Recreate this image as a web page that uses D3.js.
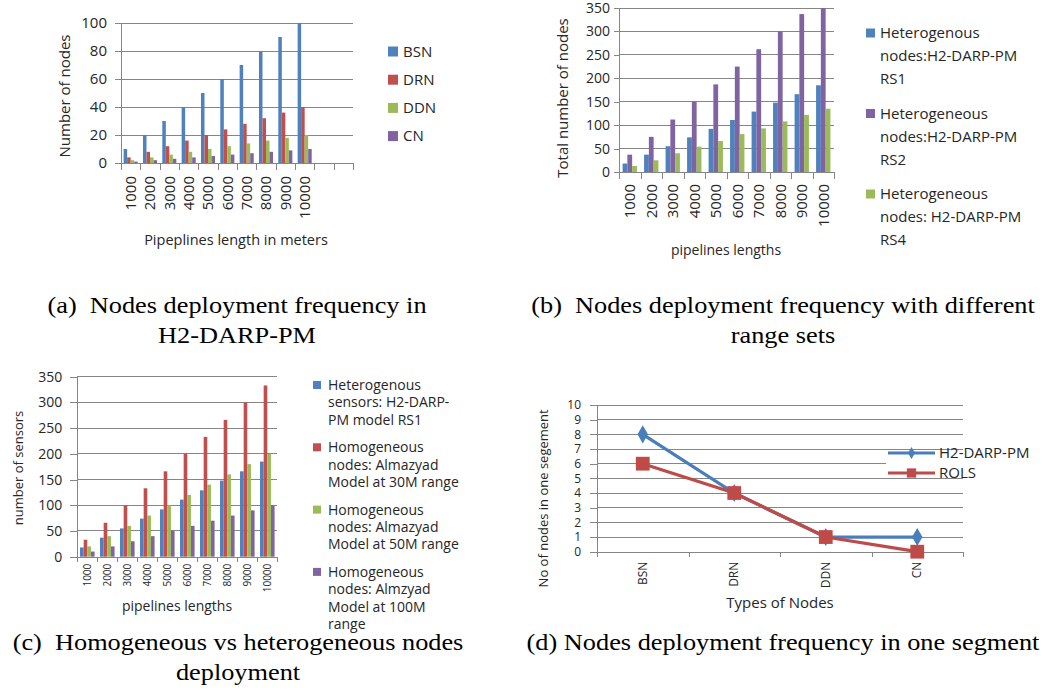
<!DOCTYPE html>
<html lang="en">
<head>
    <meta charset="UTF-8">
    <title>Nodes deployment frequency</title>
    <script src="https://d3js.org/d3.v7.min.js"></script>
    <style>
        body { margin: 0; padding: 0; background: #fff; }
        svg { display: block; }
        svg text { font-family: "Open Sans", sans-serif; fill: #262626; }
        svg text.caption { font-family: "Liberation Serif", "Times New Roman", serif; font-size: 22.5px; fill: #000; white-space: pre; }
        .axis path, .axis line { stroke: #868686; shape-rendering: crispEdges; }
        .grid line { stroke: #868686; stroke-width: 1; shape-rendering: crispEdges; }
    </style>
</head>
<body>
<svg width="1049" height="698"></svg>
<script>
    // ---- data ----
    const lengths = ["1000", "2000", "3000", "4000", "5000", "6000", "7000", "8000", "9000", "10000"];

    // (a) node types per pipeline length
    const nodeTypes = ["BSN", "DRN", "DDN", "CN"];
    const bsn = [10, 20, 30, 40, 50, 60, 70, 80, 90, 100];
    const drn = [4, 8, 12, 16, 20, 24, 28, 32, 36, 40];
    const ddn = [2, 4, 6, 8, 10, 12, 14, 16, 18, 20];
    const cn  = [1, 2, 3, 4, 5, 6, 7, 8, 9, 10];

    // (b) range sets
    const rs1 = [18, 37, 55, 74, 92, 111, 129, 148, 166, 185];
    const rs2 = [37, 75, 112, 150, 187, 225, 262, 300, 337, 375];
    const rs4 = [13, 25, 40, 54, 66, 81, 93, 108, 122, 135];
    const legendB = [
        ["Heterogenous", "nodes:H2-DARP-PM", "RS1"],
        ["Heterogeneous", "nodes:H2-DARP-PM", "RS2"],
        ["Heterogeneous", "nodes: H2-DARP-PM", "RS4"]
    ];

    // (c) homogeneous vs heterogeneous
    const homo30  = [33, 66, 100, 133, 166, 200, 233, 266, 300, 333];
    const homo50  = [20, 40, 60, 80, 100, 120, 140, 160, 180, 200];
    const homo100 = [10, 20, 30, 40, 50, 60, 70, 80, 90, 100];
    const legendC = [
        ["Heterogenous", "sensors: H2-DARP-", "PM model RS1"],
        ["Homogeneous", "nodes: Almazyad", "Model at 30M range"],
        ["Homogeneous", "nodes: Almazyad", "Model at 50M range"],
        ["Homogeneous", "nodes: Almzyad", "Model at 100M", "range"]
    ];

    // (d) one segment
    const h2darp = [8, 4, 1, 1];
    const rols   = [6, 4, 1, 0];
    const lineNames = ["H2-DARP-PM", "ROLS"];

    const blue = "#4F81BD", red = "#C0504D", green = "#9BBB59", purple = "#8064A2";

    const svg = d3.select("svg");

    // clustered column chart, excel style
    function barChart(o) {
        const g = svg.append("g");
        const n = o.nCats;
        const x = d3.scaleBand().domain(d3.range(n)).range([o.left, o.right]);
        const y = d3.scaleLinear().domain([0, o.max]).range([o.bottom, o.top]).clamp(true);
        const ticks = d3.range(0, o.max + 1, o.step);

        g.append("g").attr("class", "grid")
            .selectAll("line").data(ticks.slice(1)).join("line")
            .attr("x1", o.left).attr("x2", o.right)
            .attr("y1", d => y(d)).attr("y2", d => y(d));

        const inner = d3.scaleBand().domain(d3.range(o.series.length))
            .range([0, x.bandwidth()]).paddingOuter(0.75);

        o.series.forEach((s, si) => {
            g.append("g").selectAll("rect").data(s.values).join("rect")
                .attr("x", (d, i) => x(i) + inner(si))
                .attr("width", inner.bandwidth())
                .attr("y", d => y(d))
                .attr("height", d => y(0) - y(d))
                .attr("fill", s.color);
        });

        g.append("g").attr("class", "axis")
            .attr("transform", `translate(${o.left},0)`)
            .call(d3.axisLeft(y).tickValues(ticks).tickSize(o.yTick).tickPadding(o.yPad))
            .call(a => a.selectAll("text").style("font-size", o.yFont + "px"));

        // tick marks between categories
        const xs = d3.scaleLinear().domain([0, n]).range([o.left, o.right]);
        g.append("g").attr("class", "axis")
            .attr("transform", `translate(0,${o.bottom})`)
            .call(d3.axisBottom(xs).tickValues(d3.range(n + 1)).tickFormat("").tickSize(o.xTick).tickSizeOuter(0));

        g.append("g")
            .attr("transform", `translate(0,${o.bottom})`)
            .call(d3.axisBottom(x).tickSize(0).tickFormat(i => lengths[i] || ""))
            .call(a => a.select(".domain").remove())
            .call(a => a.selectAll("text")
                .attr("transform", "rotate(-90)")
                .attr("x", -o.xPad).attr("y", 0).attr("dy", "0.35em")
                .style("text-anchor", "end")
                .style("font-size", o.xFont + "px"));

        g.append("text")
            .attr("transform", `translate(${o.yTitle[0]},${o.yTitle[1]}) rotate(-90)`)
            .attr("text-anchor", "middle").attr("dy", "0.35em")
            .style("font-size", o.yTitleFont + "px")
            .text(o.yLabel);
        g.append("text")
            .attr("x", o.xTitle[0]).attr("y", o.xTitle[1])
            .attr("text-anchor", "middle")
            .style("font-size", o.xTitleFont + "px")
            .text(o.xLabel);
    }

    function legend(o) {
        const g = svg.append("g").attr("transform", `translate(${o.x},${o.y})`);
        o.items.forEach((lines, i) => {
            const item = g.append("g").attr("transform", `translate(0,${i * o.gap})`);
            item.append("rect")
                .attr("x", 0).attr("y", -o.box / 2)
                .attr("width", o.box).attr("height", o.box)
                .attr("fill", o.colors[i]);
            const t = item.append("text")
                .attr("x", o.textX).attr("y", 0)
                .style("font-size", o.font + "px");
            lines.forEach((l, j) => {
                t.append("tspan").attr("x", o.textX).attr("dy", j === 0 ? "0.35em" : o.lineH).text(l);
            });
        });
    }

    // (a)
    barChart({
        left: 121, right: 353, top: 23, bottom: 163, max: 100, step: 20, nCats: 12,
        series: [{ values: bsn, color: blue }, { values: drn, color: red },
                 { values: ddn, color: green }, { values: cn, color: purple }],
        yTick: 6, yPad: 8, yFont: 15, xTick: 7, xPad: 13, xFont: 15,
        yLabel: "Number of nodes", yTitle: [65, 96], yTitleFont: 15,
        xLabel: "Pipeplines length in meters", xTitle: [236, 245], xTitleFont: 14.5
    });
    legend({ x: 388, y: 51.5, gap: 28.2, box: 10, textX: 15, font: 15, lineH: 0,
             colors: [blue, red, green, purple], items: nodeTypes.map(d => [d]) });

    // (b)
    barChart({
        left: 619, right: 834, top: 8, bottom: 172, max: 350, step: 50, nCats: 10,
        series: [{ values: rs1, color: blue }, { values: rs2, color: purple }, { values: rs4, color: green }],
        yTick: 5, yPad: 4, yFont: 14, xTick: 7, xPad: 12, xFont: 15,
        yLabel: "Total number of nodes", yTitle: [563, 98], yTitleFont: 15,
        xLabel: "pipelines lengths", xTitle: [726, 255], xTitleFont: 14
    });
    legend({ x: 866, y: 33, gap: 80.5, box: 9, textX: 14, font: 15, lineH: 23,
             colors: [blue, purple, green], items: legendB });

    // (c)
    barChart({
        left: 77.3, right: 277.3, top: 376.7, bottom: 556.7, max: 350, step: 50, nCats: 10,
        series: [{ values: rs1, color: blue }, { values: homo30, color: red },
                 { values: homo50, color: green }, { values: homo100, color: purple }],
        yTick: 7, yPad: 8, yFont: 14, xTick: 5, xPad: 7, xFont: 10,
        yLabel: "number of sensors", yTitle: [18, 468], yTitleFont: 13,
        xLabel: "pipelines lengths", xTitle: [177, 611], xTitleFont: 14
    });
    legend({ x: 313, y: 385, gap: 62.3, box: 8, textX: 15, font: 14, lineH: 17.4,
             colors: [blue, red, green, purple], items: legendC });

    // (d) line chart
    (function () {
        const o = { left: 597, right: 963, top: 405, bottom: 551.7 };
        const g = svg.append("g");
        const x = d3.scaleBand().domain(nodeTypes).range([o.left, o.right]);
        const y = d3.scaleLinear().domain([0, 10]).range([o.bottom, o.top]);
        const ticks = d3.range(0, 11);

        g.append("g").attr("class", "grid")
            .selectAll("line").data(ticks.slice(1)).join("line")
            .attr("x1", o.left).attr("x2", o.right)
            .attr("y1", d => y(d)).attr("y2", d => y(d));

        g.append("g").attr("class", "axis")
            .attr("transform", `translate(${o.left},0)`)
            .call(d3.axisLeft(y).tickValues(ticks).tickSize(7).tickPadding(9))
            .call(a => a.selectAll("text").style("font-size", "12px"));

        const xs = d3.scaleLinear().domain([0, nodeTypes.length]).range([o.left, o.right]);
        g.append("g").attr("class", "axis")
            .attr("transform", `translate(0,${o.bottom})`)
            .call(d3.axisBottom(xs).tickValues(d3.range(nodeTypes.length + 1)).tickFormat("").tickSize(5).tickSizeOuter(0));

        g.append("g")
            .attr("transform", `translate(0,${o.bottom})`)
            .call(d3.axisBottom(x).tickSize(0))
            .call(a => a.select(".domain").remove())
            .call(a => a.selectAll("text")
                .attr("transform", "rotate(-90)")
                .attr("x", -10).attr("y", 0).attr("dy", "0.35em")
                .style("text-anchor", "end")
                .style("font-size", "12px"));

        const cx = (d, i) => x(nodeTypes[i]) + x.bandwidth() / 2;
        const line = d3.line().x(cx).y(d => y(d));

        const series = [
            { values: h2darp, color: "#4A7EBB", shape: d3.symbolDiamond, size: 95 },
            { values: rols, color: "#BE4B48", shape: d3.symbolSquare, size: 190 }
        ];
        series.forEach(s => {
            g.append("path").datum(s.values)
                .attr("fill", "none").attr("stroke", s.color).attr("stroke-width", 3.2)
                .attr("d", line);
            g.append("g").selectAll("path").data(s.values).join("path")
                .attr("transform", (d, i) => `translate(${cx(d, i)},${y(d)})`)
                .attr("d", d3.symbol(s.shape, s.size))
                .attr("fill", s.color);
        });

        g.append("text")
            .attr("transform", `translate(543,${(o.top + o.bottom) / 2 + 20}) rotate(-90)`)
            .attr("text-anchor", "middle").attr("dy", "0.35em")
            .style("font-size", "13px")
            .text("No of nodes in one segement");
        g.append("text")
            .attr("x", 780).attr("y", 608)
            .attr("text-anchor", "middle")
            .style("font-size", "15px")
            .text("Types of Nodes");

        // legend
        const lg = svg.append("g").attr("transform", "translate(888,453)");
        lg.append("rect").attr("x", -2).attr("y", 3).attr("width", 125).attr("height", 15).attr("fill", "#fff");
        series.forEach((s, i) => {
            const it = lg.append("g").attr("transform", `translate(0,${i * 20})`);
            it.append("line").attr("x1", 0).attr("x2", 47)
                .attr("stroke", s.color).attr("stroke-width", 3.2);
            it.append("path").attr("transform", "translate(23.5,0)")
                .attr("d", d3.symbol(s.shape, s.size * 0.45)).attr("fill", s.color);
            it.append("text").attr("x", 51).attr("dy", "0.35em")
                .style("font-size", "15px").text(lineNames[i]);
        });
    })();

    // captions (the serif text in the source is a little wider than Times)
    const captions = [
        { x: 237, y: 313, lines: ["(a)  Nodes deployment frequency in", "H2-DARP-PM"] },
        { x: 783, y: 313, lines: ["(b)  Nodes deployment frequency with different", "range sets"] },
        { x: 238, y: 650, lines: ["(c)  Homogeneous vs heterogeneous nodes", "deployment"] },
        { x: 783, y: 650, lines: ["(d) Nodes deployment frequency in one segment"] }
    ];
    captions.forEach(c => {
        const t = svg.append("text").attr("class", "caption")
            .attr("text-anchor", "middle")
            .attr("transform", `translate(${c.x},${c.y}) scale(1.17,1)`);
        c.lines.forEach((l, j) => {
            t.append("tspan").attr("x", 0).attr("y", j * 30.5).text(l);
        });
    });
</script>
</body>
</html>
